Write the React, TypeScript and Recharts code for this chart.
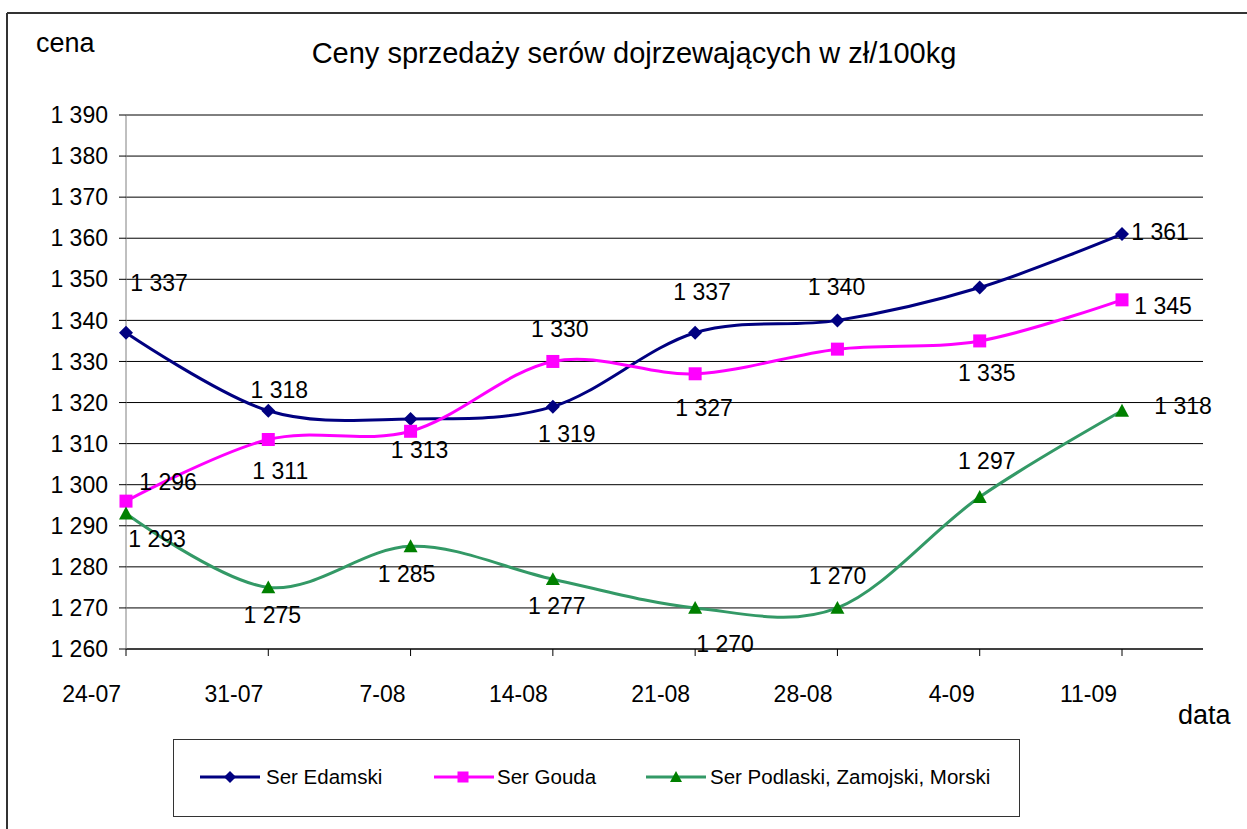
import React from "react";
import {
  LineChart,
  Line,
  XAxis,
  YAxis,
  CartesianGrid,
  LabelList,
} from "recharts";

const dates = ["24-07", "31-07", "7-08", "14-08", "21-08", "28-08", "4-09", "11-09"];
const edamski = [1337, 1318, 1316, 1319, 1337, 1340, 1348, 1361];
const gouda = [1296, 1311, 1313, 1330, 1327, 1333, 1335, 1345];
const podlaski = [1293, 1275, 1285, 1277, 1270, 1270, 1297, 1318];
const yTicks = [1260, 1270, 1280, 1290, 1300, 1310, 1320, 1330, 1340, 1350, 1360, 1370, 1380, 1390];

// label placement (dx, dy from the point), null = label not shown
const edamLabelPos: ([number, number] | null)[] = [
  [33, -50], [11, -21], null, [14, 27], [7, -41], [-1, -33], null, [38, -2],
];
const goudaLabelPos: ([number, number] | null)[] = [
  [42, -19], [12, 31], [9, 19], [7, -32], [9, 34], null, [7, 32], [41, 6],
];
const podlLabelPos: ([number, number] | null)[] = [
  [31, 26], [4, 28], [-4, 28], [4, 27], [30, 36], [0, -32], [7, -36], [61, -5],
];

const FONT = '"Liberation Sans", Arial, sans-serif';
const NAVY = "#000080";
const MAGENTA = "#FF00FF";
const GREEN_LINE = "#339966";
const GREEN_MARK = "#008000";

const chartData = dates.map((d, i) => ({
  date: d,
  edamski: edamski[i],
  gouda: gouda[i],
  podlaski: podlaski[i],
}));

function fmt(v: number): string {
  const s = String(Math.round(v));
  return s.length > 3 ? `${s.slice(0, s.length - 3)} ${s.slice(-3)}` : s;
}

// Excel-like smoothing (cardinal spline, tension 0)
class Cardinal {
  _context: any;
  _line = NaN;
  _point = 0;
  _x0 = NaN; _x1 = NaN; _x2 = NaN;
  _y0 = NaN; _y1 = NaN; _y2 = NaN;
  _k = 1 / 6;
  constructor(context: any) {
    this._context = context;
  }
  _bez(x: number, y: number) {
    this._context.bezierCurveTo(
      this._x1 + this._k * (this._x2 - this._x0),
      this._y1 + this._k * (this._y2 - this._y0),
      this._x2 + this._k * (this._x1 - x),
      this._y2 + this._k * (this._y1 - y),
      this._x2,
      this._y2
    );
  }
  areaStart() { this._line = 0; }
  areaEnd() { this._line = NaN; }
  lineStart() {
    this._x0 = this._x1 = this._x2 = this._y0 = this._y1 = this._y2 = NaN;
    this._point = 0;
  }
  lineEnd() {
    switch (this._point) {
      case 2: this._context.lineTo(this._x2, this._y2); break;
      case 3: this._bez(this._x1, this._y1); break;
    }
    if (this._line || (this._line !== 0 && this._point === 1)) this._context.closePath();
    this._line = 1 - this._line;
  }
  point(x: number, y: number) {
    x = +x; y = +y;
    switch (this._point) {
      case 0:
        this._point = 1;
        if (this._line) this._context.lineTo(x, y);
        else this._context.moveTo(x, y);
        break;
      case 1:
        this._point = 2;
        this._x1 = x; this._y1 = y;
        break;
      case 2:
        this._point = 3;
        this._bez(x, y);
        break;
      default:
        this._bez(x, y);
        break;
    }
    this._x0 = this._x1; this._x1 = this._x2; this._x2 = x;
    this._y0 = this._y1; this._y1 = this._y2; this._y2 = y;
  }
}
const smooth: any = (context: any) => new Cardinal(context);

function Diamond({ cx, cy, s = 7 }: any) {
  if (cx == null || cy == null) return null;
  return <polygon points={`${cx},${cy - s} ${cx + s},${cy} ${cx},${cy + s} ${cx - s},${cy}`} fill={NAVY} />;
}
function Square({ cx, cy, s = 6.5 }: any) {
  if (cx == null || cy == null) return null;
  return <rect x={cx - s} y={cy - s} width={s * 2} height={s * 2} fill={MAGENTA} />;
}
function Triangle({ cx, cy, s = 7 }: any) {
  if (cx == null || cy == null) return null;
  return (
    <polygon
      points={`${cx},${cy - s} ${cx + s},${cy + s * 0.85} ${cx - s},${cy + s * 0.85}`}
      fill={GREEN_MARK}
    />
  );
}

function makeLabel(pos: ([number, number] | null)[]) {
  return (props: any) => {
    const { x, y, value, index } = props;
    const p = pos[index];
    if (!p || x == null || y == null) return null;
    return (
      <text
        x={x + p[0]}
        y={y + p[1]}
        textAnchor="middle"
        dominantBaseline="central"
        fontFamily={FONT}
        fontSize={23}
        fill="#000"
      >
        {fmt(value)}
      </text>
    );
  };
}

function XTick(props: any) {
  const { x, y, payload } = props;
  return (
    <text x={x - 5} y={y + 44} textAnchor="end" fontFamily={FONT} fontSize={23} fill="#000">
      {payload.value}
    </text>
  );
}

export default function App() {
  return (
    <div style={{ position: "absolute", left: 0, top: 0, width: 1247, height: 829, background: "#fff" }}>
      <LineChart
        width={1247}
        height={829}
        data={chartData}
        margin={{ top: 115, right: 44, bottom: 130, left: 0 }}
      >
        <CartesianGrid vertical={false} stroke="#000" strokeWidth={1} />
        <XAxis
          dataKey="date"
          height={50}
          padding={{ left: 0, right: 81 }}
          tick={<XTick />}
          tickSize={7}
          tickLine={{ stroke: "#000" }}
          axisLine={{ stroke: "#000" }}
          interval={0}
        />
        <YAxis
          width={126}
          domain={[1260, 1390]}
          ticks={yTicks}
          interval={0}
          tickFormatter={fmt}
          tickSize={7}
          tickMargin={11}
          tick={{ fontFamily: FONT, fontSize: 23, fill: "#000" }}
          tickLine={{ stroke: "#000" }}
          axisLine={{ stroke: "#808080" }}
        />
        <Line
          dataKey="edamski"
          type={smooth}
          stroke={NAVY}
          strokeWidth={3}
          dot={(p: any) => <Diamond key={`e${p.index}`} cx={p.cx} cy={p.cy} />}
          activeDot={false}
          isAnimationActive={false}
        >
          <LabelList dataKey="edamski" content={makeLabel(edamLabelPos)} />
        </Line>
        <Line
          dataKey="gouda"
          type={smooth}
          stroke={MAGENTA}
          strokeWidth={3}
          dot={(p: any) => <Square key={`g${p.index}`} cx={p.cx} cy={p.cy} />}
          activeDot={false}
          isAnimationActive={false}
        >
          <LabelList dataKey="gouda" content={makeLabel(goudaLabelPos)} />
        </Line>
        <Line
          dataKey="podlaski"
          type={smooth}
          stroke={GREEN_LINE}
          strokeWidth={3}
          dot={(p: any) => <Triangle key={`p${p.index}`} cx={p.cx} cy={p.cy} />}
          activeDot={false}
          isAnimationActive={false}
        >
          <LabelList dataKey="podlaski" content={makeLabel(podlLabelPos)} />
        </Line>
      </LineChart>

      <svg
        width={1247}
        height={829}
        style={{ position: "absolute", left: 0, top: 0, pointerEvents: "none" }}
      >
        <line x1={7} y1={13} x2={1247} y2={13} stroke="#333" strokeWidth={2} />
        <line x1={7} y1={13} x2={7} y2={829} stroke="#333" strokeWidth={2} />
        <text x={634} y={63} textAnchor="middle" fontFamily={FONT} fontSize={29} fill="#000">
          Ceny sprzedaży serów dojrzewających w zł/100kg
        </text>
        <text x={36} y={52} fontFamily={FONT} fontSize={27} fill="#000">cena</text>
        <text x={1178} y={724} fontFamily={FONT} fontSize={27} fill="#000">data</text>

        <rect x={173.5} y={739.5} width={846} height={77} fill="#fff" stroke="#333" strokeWidth={1} />
        <line x1={200} y1={777} x2={260} y2={777} stroke={NAVY} strokeWidth={3} />
        <Diamond cx={230} cy={777} s={6} />
        <text x={266} y={784} fontFamily={FONT} fontSize={20.5} fill="#000">Ser Edamski</text>
        <line x1={434} y1={777} x2={494} y2={777} stroke={MAGENTA} strokeWidth={3} />
        <Square cx={463} cy={777} s={5.5} />
        <text x={497} y={784} fontFamily={FONT} fontSize={20.5} fill="#000">Ser Gouda</text>
        <line x1={646} y1={777} x2={706} y2={777} stroke={GREEN_LINE} strokeWidth={3} />
        <Triangle cx={676} cy={777} s={6} />
        <text x={710} y={784} fontFamily={FONT} fontSize={20.5} fill="#000">Ser Podlaski, Zamojski, Morski</text>
      </svg>
    </div>
  );
}
